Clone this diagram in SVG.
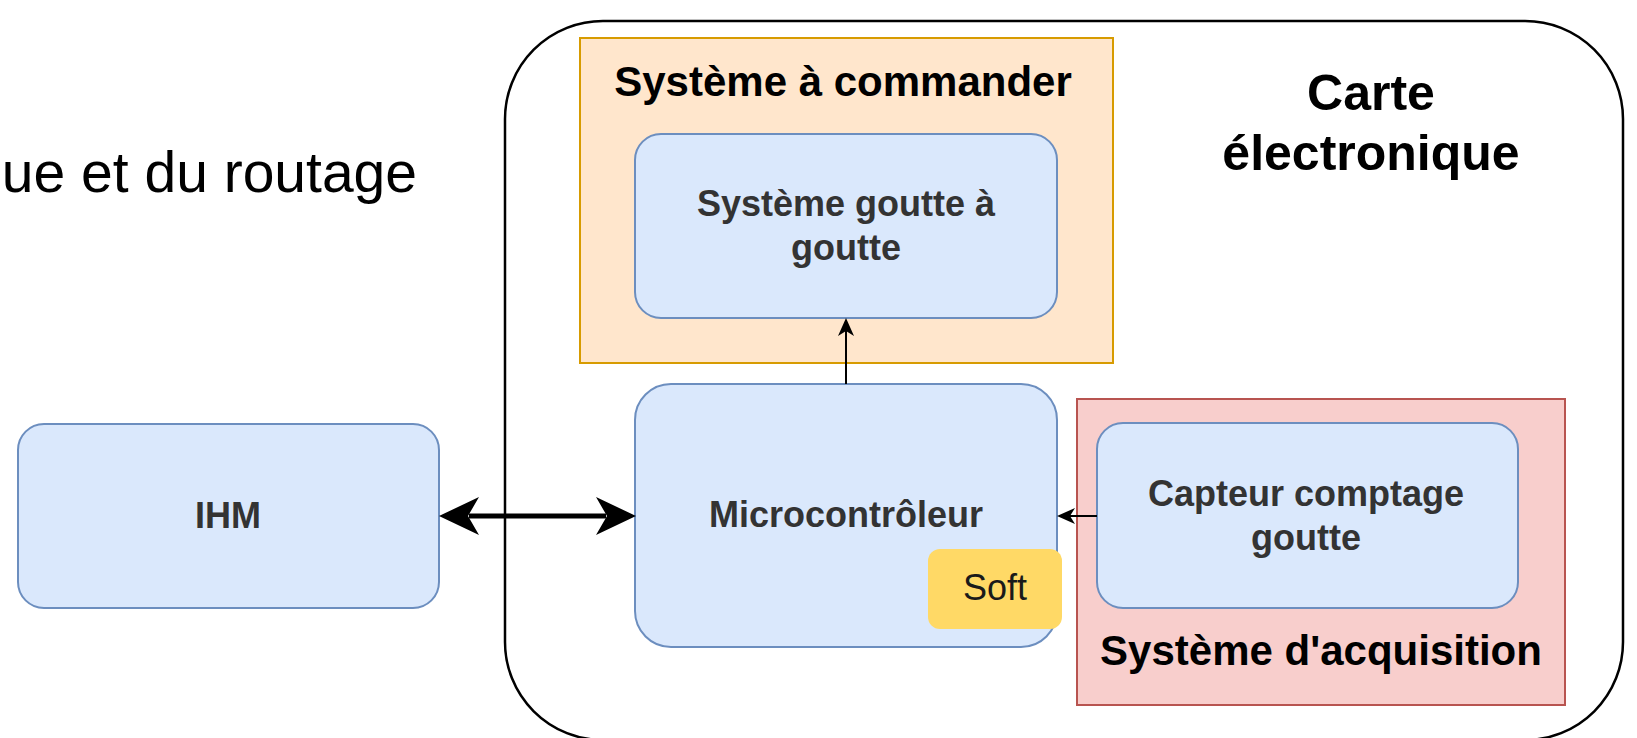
<svg xmlns="http://www.w3.org/2000/svg" width="1637" height="738" viewBox="0 0 1637 738">
<style>
.node{fill:#dae8fc;stroke:#6c8ebf;stroke-width:2}
.lbl{font-family:"Liberation Sans",Arial,sans-serif;font-weight:bold;font-size:36px;fill:#333333;text-anchor:middle}
.title{font-family:"Liberation Sans",Arial,sans-serif;font-weight:bold;font-size:42px;fill:#000000;text-anchor:middle}
.edge{fill:none;stroke:#000000}
</style>
<defs>
<marker id="bigArrow" markerUnits="userSpaceOnUse" viewBox="0 0 40 40" refX="10" refY="20" markerWidth="40" markerHeight="40" orient="auto-start-reverse">
<path d="M0,1 L40,20 L0,39 L11,20 Z" fill="#000000"/>
</marker>
<marker id="smallArrow" markerUnits="userSpaceOnUse" viewBox="0 0 18 16" refX="5" refY="8" markerWidth="18" markerHeight="16" orient="auto">
<path d="M0,0 L18,8 L0,16 L5,8 Z" fill="#000000"/>
</marker>
</defs>
<rect width="1637" height="738" fill="#ffffff"/>
<text x="417" y="192" font-family="Liberation Sans, Arial, sans-serif" font-size="57" fill="#000000" text-anchor="end">ue et du routage</text>
<g id="carte">
<rect x="505" y="21" width="1118" height="719" rx="98" ry="98" fill="none" stroke="#000000" stroke-width="2.5"/>
<text class="title" x="1371" y="110" style="font-size:50px">Carte</text>
<text class="title" x="1371" y="170" style="font-size:50px">électronique</text>
</g>
<g id="systeme-commander">
<rect x="580" y="38" width="533" height="325" fill="#ffe6cc" stroke="#d79b00" stroke-width="2"/>
<text class="title" x="843" y="96">Système à commander</text>
</g>
<g id="systeme-acquisition">
<rect x="1077" y="399" width="488" height="306" fill="#f8cecc" stroke="#b85450" stroke-width="2"/>
<text class="title" x="1321" y="665">Système d'acquisition</text>
</g>
<g id="goutte">
<rect class="node" x="635" y="134" width="422" height="184" rx="26" ry="26"/>
<text class="lbl" x="846" y="216">Système goutte à</text>
<text class="lbl" x="846" y="260">goutte</text>
</g>
<g id="ihm">
<rect class="node" x="18" y="424" width="421" height="184" rx="26" ry="26"/>
<text class="lbl" x="228" y="528">IHM</text>
</g>
<g id="micro">
<rect class="node" x="635" y="384" width="422" height="263" rx="36" ry="36"/>
<text class="lbl" x="846" y="527">Microcontrôleur</text>
</g>
<g id="soft">
<rect x="928" y="549" width="134" height="80" rx="12" ry="12" fill="#ffd966"/>
<text x="995" y="600" font-family="Liberation Sans, Arial, sans-serif" font-size="36" fill="#1a1a1a" text-anchor="middle">Soft</text>
</g>
<g id="capteur">
<rect class="node" x="1097" y="423" width="421" height="185" rx="26" ry="26"/>
<text class="lbl" x="1306" y="506">Capteur comptage</text>
<text class="lbl" x="1306" y="550">goutte</text>
</g>
<g id="connectors">
<line class="edge" x1="469" y1="516" x2="606" y2="516" stroke-width="5" marker-start="url(#bigArrow)" marker-end="url(#bigArrow)"/>
<line class="edge" x1="846" y1="384" x2="846" y2="331" stroke-width="2" marker-end="url(#smallArrow)"/>
<line class="edge" x1="1097" y1="516" x2="1070" y2="516" stroke-width="2" marker-end="url(#smallArrow)"/>
</g>
</svg>
